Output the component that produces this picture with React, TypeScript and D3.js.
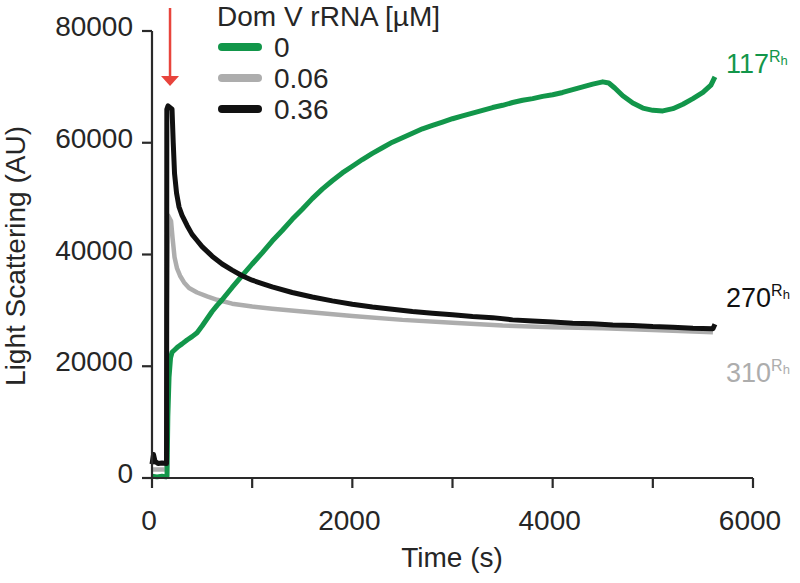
import React from "react";
import * as d3 from "d3";

const W = 800;
const H = 583;

// Time (s), light scattering (AU)
const series0: [number, number][] = [
  [0, 300], [50, 200], [100, 300], [140, 200], [150, 300], [158, 11000], [170, 18000], [185, 21500],
  [200, 22500], [230, 23000], [260, 23500], [300, 24000], [350, 24700], [400, 25300], [450, 26000],
  [500, 27200], [550, 28500], [600, 29800], [650, 30900], [700, 31900], [800, 34100], [900, 36200],
  [1000, 38300], [1100, 40300], [1200, 42400], [1300, 44300], [1400, 46300], [1500, 48100],
  [1600, 50000], [1700, 51700], [1800, 53200], [1900, 54600], [2000, 55800], [2100, 57000],
  [2200, 58100], [2300, 59100], [2400, 60100], [2500, 60900], [2600, 61700], [2700, 62500],
  [2800, 63100], [2900, 63700], [3000, 64300], [3100, 64800], [3200, 65300], [3300, 65800],
  [3400, 66300], [3500, 66700], [3600, 67200], [3700, 67600], [3800, 67900], [3900, 68300],
  [4000, 68600], [4100, 69000], [4200, 69500], [4300, 70000], [4400, 70500], [4500, 70900],
  [4560, 70700], [4620, 69800], [4700, 68400], [4800, 67100], [4900, 66200], [5000, 65800],
  [5100, 65700], [5200, 66100], [5300, 66900], [5400, 67900], [5500, 69000], [5580, 70300], [5620, 71800],
];

const series006: [number, number][] = [
  [0, 1500], [145, 1500], [150, 30000], [160, 47000], [190, 46000], [205, 43000], [225, 39500],
  [250, 37500], [280, 36200], [320, 35000], [370, 34000], [450, 33200], [550, 32500], [650, 31900],
  [800, 31200], [1000, 30700], [1200, 30300], [1500, 29800], [2000, 29000], [2500, 28300],
  [3000, 27800], [3500, 27300], [4000, 27000], [4500, 26800], [5000, 26500], [5600, 26100],
];

const series036: [number, number][] = [
  [0, 2500], [15, 4200], [30, 3000], [60, 2600], [100, 2700], [145, 2600], [148, 66000], [160, 66600],
  [200, 66000], [212, 60000], [225, 54500], [245, 51000], [270, 48500], [300, 47000], [350, 45200],
  [400, 43600], [450, 42500], [500, 41400], [600, 39700], [700, 38300], [800, 37200], [900, 36200],
  [1000, 35400], [1100, 34800], [1200, 34200], [1400, 33200], [1600, 32400], [1800, 31700],
  [2000, 31100], [2200, 30600], [2400, 30200], [2600, 29800], [2800, 29500], [3000, 29200],
  [3200, 28900], [3400, 28700], [3600, 28300], [3800, 28100], [4000, 27900], [4200, 27700],
  [4400, 27600], [4600, 27400], [4800, 27300], [5000, 27100], [5200, 27000], [5400, 26800],
  [5600, 26700], [5620, 27500],
];

const legendLabels = ["0", "0.06", "0.36"];
const endLabels = ["117", "310", "270"];
const lineColors = ["#12964a", "#adadad", "#111111"];
const xTicks = [0, 1000, 2000, 3000, 4000, 5000, 6000];
const xTickLabels = [0, 2000, 4000, 6000];
const yTicks = [0, 20000, 40000, 60000, 80000];
const arrowTime = 180;

const FONT = "'Liberation Sans', Arial, Helvetica, sans-serif";

export default function App() {
  const x = d3.scaleLinear().domain([0, 6000]).range([152, 753]);
  const y = d3.scaleLinear().domain([0, 80000]).range([478, 31]);
  const line = d3
    .line<[number, number]>()
    .x((d) => x(d[0]))
    .y((d) => y(d[1]))
    .curve(d3.curveLinear);

  const allSeries = [series0, series006, series036];
  const drawOrder = [1, 0, 2];
  const fs = 28;
  const axisColor = "#2a2a2a";
  const textColor = "#262626";
  const endLabelY = [63, 372, 297];

  return (
    <svg
      width={W}
      height={H}
      style={{ position: "absolute", left: 0, top: 0, background: "#fff" }}
      fontFamily={FONT}
    >
      {/* data lines */}
      {drawOrder.map((i) => (
        <path
          key={i}
          d={line(allSeries[i]) || ""}
          fill="none"
          stroke={lineColors[i]}
          strokeWidth={i === 1 ? 4.5 : 5}
          strokeLinejoin="round"
        />
      ))}

      {/* axes */}
      <line x1={x(0)} x2={x(0)} y1={y(80000)} y2={y(0)} stroke={axisColor} strokeWidth={2.2} />
      <line x1={x(0)} x2={x(6000)} y1={y(0)} y2={y(0)} stroke={axisColor} strokeWidth={2.2} />
      {yTicks.map((t) => (
        <g key={"y" + t}>
          <line x1={x(0) - 10} x2={x(0)} y1={y(t)} y2={y(t)} stroke={axisColor} strokeWidth={2.2} />
          <text x={x(0) - 19} y={y(t) + 5} textAnchor="end" fontSize={fs} fill={textColor}>
            {t}
          </text>
        </g>
      ))}
      {xTicks.map((t) => (
        <line key={"x" + t} x1={x(t)} x2={x(t)} y1={y(0)} y2={y(0) + 10} stroke={axisColor} strokeWidth={2.2} />
      ))}
      {xTickLabels.map((t) => (
        <text key={"xl" + t} x={x(t) - 3} y={530} textAnchor="middle" fontSize={fs} fill={textColor}>
          {t}
        </text>
      ))}
      <text x={452} y={567} textAnchor="middle" fontSize={fs} fill={textColor}>
        Time (s)
      </text>
      <text
        transform={`translate(25, 256) rotate(-90)`}
        textAnchor="middle"
        fontSize={fs}
        fill={textColor}
      >
        Light Scattering (AU)
      </text>

      {/* arrow */}
      <line x1={x(arrowTime)} x2={x(arrowTime)} y1={8} y2={80} stroke="#e8443c" strokeWidth={2.5} />
      <path
        d={`M${x(arrowTime) - 9},${76} L${x(arrowTime) + 9},${76} L${x(arrowTime)},${86} Z`}
        fill="#e8443c"
      />

      {/* legend */}
      <text x={217} y={26} fontSize={fs} fill={textColor}>
        Dom V rRNA [µM]
      </text>
      {legendLabels.map((lab, i) => (
        <g key={lab}>
          <line
            x1={222}
            x2={258}
            y1={47 + i * 31}
            y2={47 + i * 31}
            stroke={lineColors[i]}
            strokeWidth={8}
            strokeLinecap="round"
          />
          <text x={274} y={47 + i * 31 + 10} fontSize={fs} fill={textColor}>
            {lab}
          </text>
        </g>
      ))}

      {/* end labels */}
      {endLabels.map((lab, i) => (
        <text key={lab} x={726} y={endLabelY[i] + 10} fontSize={27} fill={i === 2 ? "#111" : lineColors[i]}>
          {lab}
          <tspan fontSize={16} dy={-11}>
            R
          </tspan>
          <tspan fontSize={13} dy={3}>
            h
          </tspan>
        </text>
      ))}
    </svg>
  );
}
